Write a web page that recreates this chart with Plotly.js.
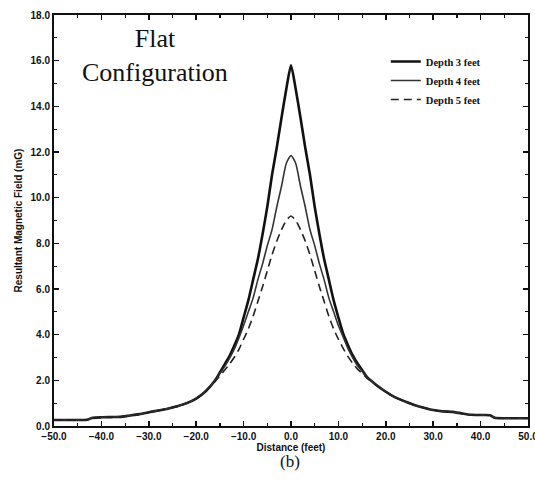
<!DOCTYPE html>
<html><head><meta charset="utf-8">
<script src="https://cdn.plot.ly/plotly-3.0.1.min.js"></script>
<style>html,body{margin:0;padding:0;background:#fff}#plot{width:535px;height:479px}</style>
</head><body><div id="plot"></div>
<script>
const distance = [-50,-45,-43,-42,-40,-38,-36,-34,-32,-30,-28,-26,-24,-22,-20,-18,-16,-15,-14,-13,-12,-11,-10,-9,-8,-7,-6,-5,-4,-3,-2,-1,0,1,2,3,4,5,6,7,8,9,10,11,12,13,14,15,16,18,20,22,24,26,28,30,32,34,36,38,40,42,43,45,50];
const depth3 = [0.26,0.26,0.27,0.35,0.38,0.39,0.40,0.46,0.52,0.60,0.68,0.76,0.86,1.00,1.20,1.52,2.00,2.35,2.70,3.05,3.50,4.00,4.75,5.50,6.40,7.30,8.40,9.60,11.00,12.20,13.50,14.75,15.80,14.75,13.50,12.20,11.00,9.60,8.40,7.30,6.40,5.50,4.75,4.05,3.55,3.10,2.75,2.45,2.15,1.80,1.50,1.25,1.08,0.92,0.80,0.70,0.64,0.62,0.55,0.49,0.48,0.47,0.36,0.34,0.34];
const depth4 = [0.26,0.26,0.27,0.35,0.38,0.39,0.40,0.46,0.52,0.60,0.68,0.76,0.86,1.00,1.20,1.52,2.00,2.30,2.60,2.95,3.35,3.85,4.40,5.00,5.60,6.40,7.10,7.90,8.60,9.60,10.50,11.50,11.85,11.50,10.50,9.60,8.60,7.90,7.10,6.40,5.60,5.00,4.40,3.90,3.40,3.00,2.65,2.40,2.15,1.80,1.50,1.25,1.08,0.92,0.80,0.70,0.64,0.62,0.55,0.49,0.48,0.47,0.36,0.34,0.34];
const depth5 = [0.26,0.26,0.27,0.35,0.38,0.39,0.40,0.46,0.52,0.60,0.68,0.76,0.86,1.00,1.20,1.50,1.95,2.20,2.45,2.70,3.00,3.35,3.80,4.25,4.80,5.45,6.10,6.80,7.50,8.10,8.60,9.00,9.20,9.00,8.60,8.10,7.50,6.80,6.10,5.45,4.80,4.25,3.80,3.40,3.05,2.75,2.50,2.30,2.10,1.78,1.50,1.25,1.08,0.92,0.80,0.70,0.64,0.62,0.55,0.49,0.48,0.47,0.36,0.34,0.34];
const seriesNames = ['Depth 3 feet','Depth 4 feet','Depth 5 feet'];

const traces = [
  {x: distance, y: depth3, name: seriesNames[0], mode:'lines', line:{color:'#111', width:2.6, shape:'spline', smoothing:0.6}},
  {x: distance, y: depth4, name: seriesNames[1], mode:'lines', line:{color:'#333', width:1.6, shape:'spline', smoothing:0.6}},
  {x: distance, y: depth5, name: seriesNames[2], mode:'lines', line:{color:'#222', width:1.6, dash:'8px,5px', shape:'spline', smoothing:0.6}}
];

const sans = "'Liberation Sans', Arial, sans-serif";
const serif = "'Liberation Serif', 'Times New Roman', serif";
const tickFont = {family:sans, size:10, color:'#111', weight:'bold'};
const layout = {
  width:535, height:479,
  margin:{l:54, r:7, t:15, b:53},
  paper_bgcolor:'#fff', plot_bgcolor:'#fff',
  showlegend:true,
  legend:{x:0.70, y:0.922, xanchor:'left', yanchor:'top', bgcolor:'rgba(0,0,0,0)', borderwidth:0,
          font:{family:serif, size:10.5, color:'#111', weight:'bold'}, itemwidth:30, tracegroupgap:0},
  xaxis:{range:[-50,50], dtick:10, tick0:0, tickformat:'.1f', ticks:'inside', ticklen:5, tickwidth:1.5, tickcolor:'#111',
         showline:true, linewidth:2, linecolor:'#111', mirror:'ticks', showgrid:false, zeroline:false,
         ticklabeloverflow:'allow',
         minor:{dtick:5, ticks:'inside', ticklen:3, tickwidth:1.2, tickcolor:'#111', showgrid:false},
         tickfont:tickFont,
         title:{text:'Distance (feet)', font:{family:sans, size:10, color:'#111', weight:'bold'}, standoff:2}},
  yaxis:{range:[0,18], dtick:2, tick0:0, tickformat:'.1f', ticks:'inside', ticklen:5, tickwidth:1.5, tickcolor:'#111',
         showline:true, linewidth:2, linecolor:'#111', mirror:'ticks', showgrid:false, zeroline:false,
         minor:{dtick:1, ticks:'inside', ticklen:3, tickwidth:1.2, tickcolor:'#111', showgrid:false},
         tickfont:tickFont,
         title:{text:'Resultant Magnetic Field (mG)', font:{family:sans, size:10, color:'#111', weight:'bold'}, standoff:6}},
  annotations:[
    {text:'Flat<br>Configuration', xref:'paper', yref:'paper', x:(155-54)/474, y:(426-56)/411, xanchor:'center', yanchor:'middle',
     showarrow:false, align:'center', font:{family:serif, size:26, color:'#111'}},
    {text:'(b)', xref:'paper', yref:'paper', x:(290-54)/474, y:(426-462)/411, xanchor:'center', yanchor:'middle',
     showarrow:false, font:{family:serif, size:17, color:'#111'}}
  ]
};
Plotly.newPlot('plot', traces, layout, {displayModeBar:false, staticPlot:true});
</script></body></html>
